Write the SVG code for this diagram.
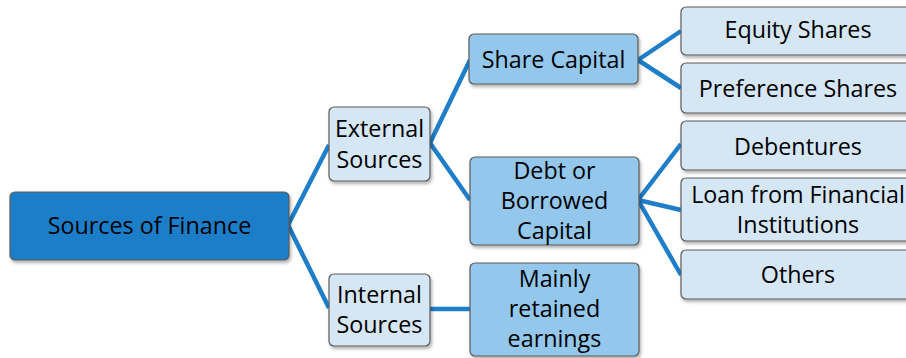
<svg xmlns="http://www.w3.org/2000/svg" width="906" height="358" viewBox="0 0 906 358">
<defs>
<filter id="sh" x="-10%" y="-10%" width="130%" height="140%">
<feDropShadow dx="1.5" dy="2.5" stdDeviation="1.8" flood-color="#000" flood-opacity="0.3"/>
</filter>
</defs>
<style>
.box{stroke:#5a5a5a;stroke-width:1.2;filter:url(#sh)}
.dark{fill:#1f7ec9}
.mid{fill:#93c7ec}
.light{fill:#d5e6f5}
text{font-family:"Open Sans","Noto Sans",sans-serif;font-size:23.3px;fill:#000;text-anchor:middle}
.conn line{stroke:#1f7ec9;stroke-width:4.5;stroke-linecap:butt}
</style>
<rect width="906" height="358" fill="#fff"/>
<g class="conn" id="connectors">
<line x1="288" y1="225" x2="329" y2="145"/>
<line x1="288" y1="225" x2="329" y2="308"/>
<line x1="430" y1="143" x2="470" y2="60"/>
<line x1="430" y1="143" x2="470" y2="200"/>
<line x1="430" y1="309" x2="470" y2="309"/>
<line x1="638" y1="60" x2="681" y2="31"/>
<line x1="638" y1="60" x2="681" y2="88"/>
<line x1="638" y1="200" x2="681" y2="144"/>
<line x1="638" y1="200" x2="681" y2="210"/>
<line x1="638" y1="200" x2="681" y2="275"/>
</g>
<g id="root"><rect class="box dark" x="10" y="192" width="279" height="68" rx="5"/><text x="149.5" y="234">Sources of Finance</text></g>
<g id="external"><rect class="box light" x="329" y="107" width="101" height="74" rx="5"/><text x="379.5" y="137">External</text><text x="379.5" y="168">Sources</text></g>
<g id="internal"><rect class="box light" x="329" y="274" width="101" height="72" rx="5"/><text x="379.5" y="303">Internal</text><text x="379.5" y="333">Sources</text></g>
<g id="share"><rect class="box mid" x="469" y="34" width="169" height="50" rx="5"/><text x="553.5" y="68">Share Capital</text></g>
<g id="debt"><rect class="box mid" x="470" y="157" width="169" height="88" rx="5"/><text x="554.5" y="179">Debt or</text><text x="554.5" y="209">Borrowed</text><text x="554.5" y="239">Capital</text></g>
<g id="retained"><rect class="box mid" x="470" y="263" width="169" height="93" rx="5"/><text x="554.5" y="287">Mainly</text><text x="554.5" y="317">retained</text><text x="554.5" y="347">earnings</text></g>
<g id="equity"><rect class="box light" x="681" y="7" width="234" height="48" rx="5"/><text x="798" y="38">Equity Shares</text></g>
<g id="preference"><rect class="box light" x="681" y="63" width="234" height="50" rx="5"/><text x="798" y="97">Preference Shares</text></g>
<g id="debentures"><rect class="box light" x="681" y="121" width="234" height="49" rx="5"/><text x="798" y="155">Debentures</text></g>
<g id="loan"><rect class="box light" x="681" y="178" width="234" height="63" rx="5"/><text x="798" y="203">Loan from Financial</text><text x="798" y="233">Institutions</text></g>
<g id="others"><rect class="box light" x="681" y="250" width="234" height="49" rx="5"/><text x="798" y="283">Others</text></g>
</svg>
